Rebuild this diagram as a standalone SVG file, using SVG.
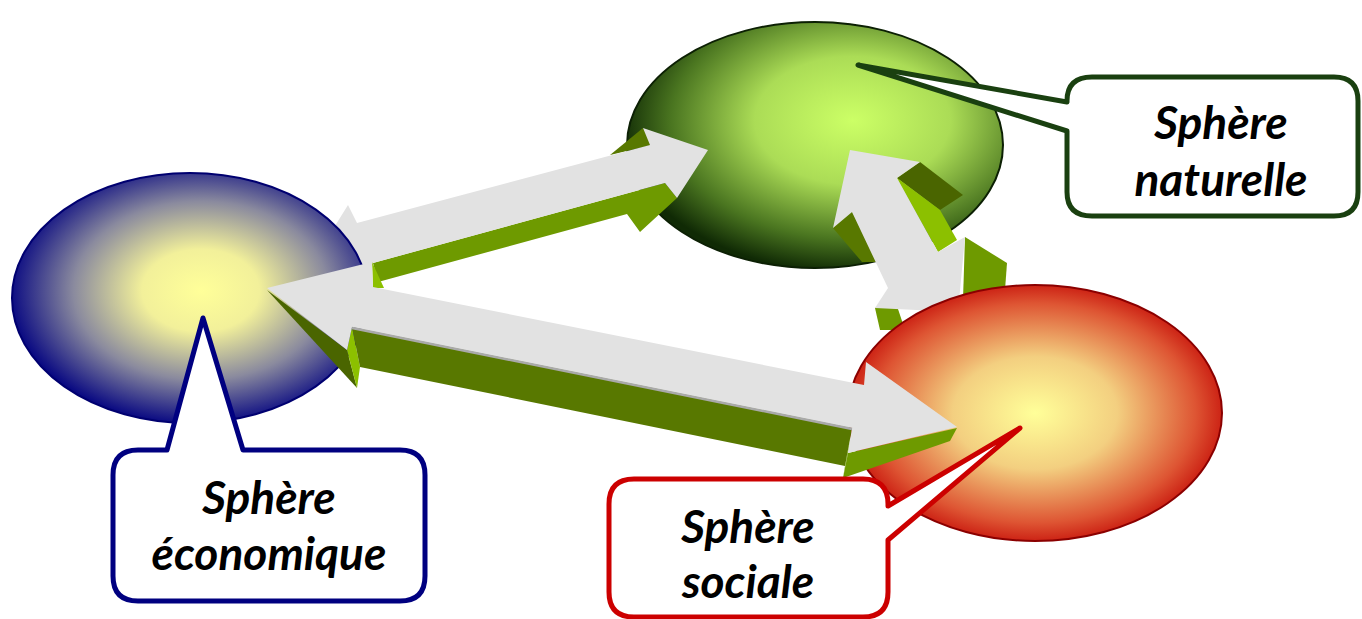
<svg xmlns="http://www.w3.org/2000/svg" width="1362" height="619" viewBox="0 0 1362 619">
<style>
.top{fill:#e2e2e2}
.edge{fill:none;stroke:#a9a9a9;stroke-width:2.5}
.gk{fill:#4a6500}
.gd{fill:#587800}
.gm{fill:#6e9a00}
.gl{fill:#8cc000}
.callout{fill:#ffffff;stroke-width:5;stroke-linejoin:round}
.lbl{font-family:Lato,"Liberation Sans",sans-serif;font-weight:bold;font-style:italic;font-size:46px;text-anchor:middle;fill:#000000}
</style>
<defs>
<radialGradient id="gBlue" cx="0.53" cy="0.47" r="0.55">
<stop offset="0" stop-color="#ffff99"/>
<stop offset="0.3" stop-color="#f2f09a"/>
<stop offset="0.65" stop-color="#8a8a9e"/>
<stop offset="1" stop-color="#000080"/>
</radialGradient>
<radialGradient id="gGreen" cx="0.6" cy="0.4" r="0.62">
<stop offset="0" stop-color="#ccff66"/>
<stop offset="0.42" stop-color="#abdc56"/>
<stop offset="0.78" stop-color="#4a7520"/>
<stop offset="1" stop-color="#102a05"/>
</radialGradient>
<radialGradient id="gRed" cx="0.5" cy="0.5" r="0.55">
<stop offset="0" stop-color="#ffff99"/>
<stop offset="0.4" stop-color="#f3cf80"/>
<stop offset="0.78" stop-color="#de5533"/>
<stop offset="1" stop-color="#c00000"/>
</radialGradient>
</defs>

<g id="sphere-naturelle">
<ellipse cx="815" cy="145" rx="188" ry="123" fill="url(#gGreen)" stroke="#0c2004" stroke-width="2"/>
</g>

<g id="connectors">
<g id="arrow-eco-nat">
<polygon class="gm" points="373,263 665,183 677,198 640,232 627,214 378,282"/>
<polygon class="gd" points="610,155 643,128 652,145"/>
<polygon class="top" points="320,250 348,205 357,223 650,145 643,128 708,150 677,198 665,183 373,263 370,290"/>
</g>
</g>

<g id="sphere-economique">
<ellipse cx="190" cy="298" rx="178" ry="125" fill="url(#gBlue)" stroke="#000070" stroke-width="2"/>
</g>

<g id="connectors-2">
<g id="arrow-nat-soc">
<polygon class="gk" points="897,178 920,162 963,195 940,210"/>
<polygon class="gl" points="897,178 940,210 957,240 938,252"/>
<polygon class="gm" points="965,237 1007,263 1005,290 963,300"/>
<polygon class="gd" points="833,228 852,212 880,262 862,262"/>
<polygon class="gm" points="875,308 895,300 905,330 880,330"/>
<polygon class="top" points="850,150 920,162 897,178 938,252 965,237 958,312 875,308 888,288 852,212 833,228"/>
</g>
</g>

<g id="sphere-sociale">
<ellipse cx="1035" cy="413" rx="187" ry="128" fill="url(#gRed)" stroke="#8b0000" stroke-width="2"/>
</g>

<g id="connectors-3">
<g id="arrow-eco-soc">
<polygon class="gk" points="267,290 347,350 357,388"/>
<polygon class="gl" points="347,350 352,327 360,367 357,388"/>
<polygon class="gd" points="352,327 852,428 845,466 360,367"/>
<polygon class="gm" points="852,428 848,453 843,478 845,466"/>
<polygon class="gm" points="848,453 957,428 950,441 843,478"/>
<polygon class="gl" points="372,262 384,288 373,288"/>
<polygon class="top" points="267,288 372,262 373,287 864,385 866,362 957,427 848,453 852,428 352,327 347,350"/>
<polyline class="edge" points="352,328 852,429"/>
</g>
</g>

<g id="callout-economique">
<path class="callout" stroke="#000080" d="M138,450 L167,450 L203,318 L243,450 L400,450 Q425,450 425,475 L425,576 Q425,601 400,601 L138,601 Q113,601 113,576 L113,475 Q113,450 138,450 Z"/>
<text class="lbl" x="269" y="514">Sphère</text>
<text class="lbl" x="269" y="570">économique</text>
</g>

<g id="callout-naturelle">
<path class="callout" stroke="#1a4010" d="M1092,77 L1334,77 Q1358,77 1358,101 L1358,192 Q1358,216 1334,216 L1092,216 Q1067,216 1067,192 L1067,131 L858,65 L1067,102 L1067,101 Q1067,77 1092,77 Z"/>
<text class="lbl" x="1221" y="139">Sphère</text>
<text class="lbl" x="1221" y="196">naturelle</text>
</g>

<g id="callout-sociale">
<path class="callout" stroke="#cc0000" d="M634,479 L863,479 Q888,479 888,504 L888,506 L1020,428 L888,540 L888,592 Q888,617 863,617 L634,617 Q609,617 609,592 L609,504 Q609,479 634,479 Z"/>
<text class="lbl" x="748" y="543">Sphère</text>
<text class="lbl" x="748" y="598">sociale</text>
</g>
</svg>
